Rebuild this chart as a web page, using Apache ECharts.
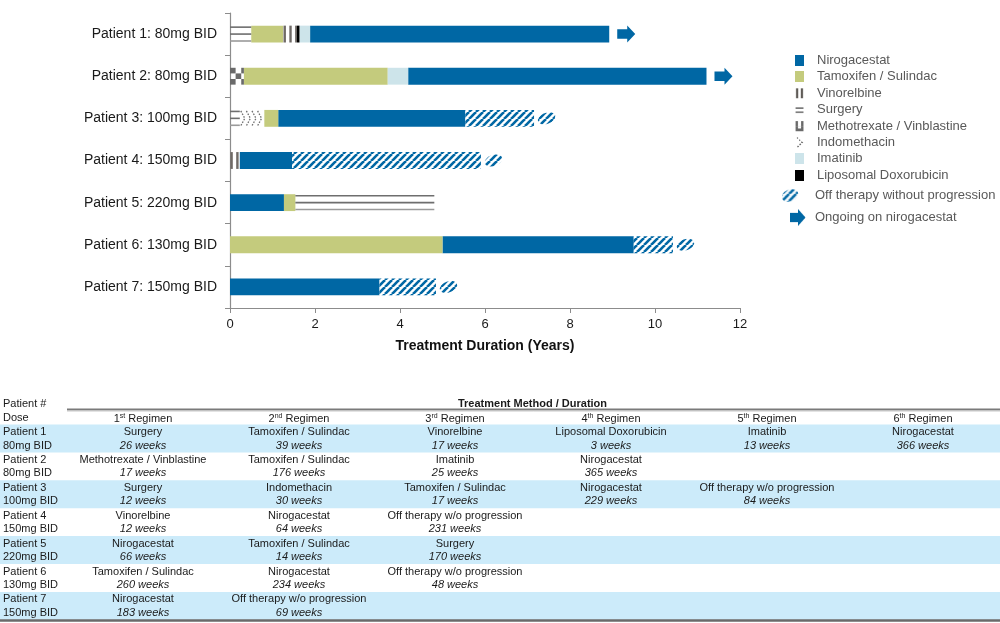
<!DOCTYPE html>
<html><head><meta charset="utf-8">
<script src="https://cdn.jsdelivr.net/npm/echarts@6/dist/echarts.min.js"></script>
<style>html,body{margin:0;padding:0;background:#fff}#chart{width:1000px;height:623px}</style>
</head><body><div id="chart"></div>
<script>
// ---------------- DATA ----------------
const patientIds = ['Patient 1','Patient 2','Patient 3','Patient 4','Patient 5','Patient 6','Patient 7'];
const doses = ['80mg BID','80mg BID','100mg BID','150mg BID','220mg BID','130mg BID','150mg BID'];
const regimens = [
  ['Surgery','Tamoxifen / Sulindac','Vinorelbine','Liposomal Doxorubicin','Imatinib','Nirogacestat'],
  ['Methotrexate / Vinblastine','Tamoxifen / Sulindac','Imatinib','Nirogacestat'],
  ['Surgery','Indomethacin','Tamoxifen / Sulindac','Nirogacestat','Off therapy w/o progression'],
  ['Vinorelbine','Nirogacestat','Off therapy w/o progression'],
  ['Nirogacestat','Tamoxifen / Sulindac','Surgery'],
  ['Tamoxifen / Sulindac','Nirogacestat','Off therapy w/o progression'],
  ['Nirogacestat','Off therapy w/o progression']
];
const weeks = [
  [26,39,17,3,13,366],
  [17,176,25,365],
  [12,30,17,229,84],
  [12,64,231],
  [66,14,170],
  [260,234,48],
  [183,69]
];
const ongoing = [true,true,false,false,false,false,false];
const regimenHeaders = [['1','st'],['2','nd'],['3','rd'],['4','th'],['5','th'],['6','th']];
const legendTypes = ['Nirogacestat','Tamoxifen / Sulindac','Vinorelbine','Surgery','Methotrexate / Vinblastine','Indomethacin','Imatinib','Liposomal Doxorubicin'];
const OFF = 'Off therapy without progression';
const OFF_SHORT = 'Off therapy w/o progression';
const ONGOING = 'Ongoing on nirogacestat';
const xAxisTitle = 'Treatment Duration (Years)';
const tableTitle = 'Treatment Method / Duration';
const WEEKS_PER_YEAR = 52;

// ---------------- STYLE ----------------
const FONT = "'Liberation Sans', Arial, Helvetica, sans-serif";
const C = {niro:'#0067A4', tam:'#C4CB7D', ima:'#CDE4EA', lipo:'#000000', gray:'#6E6E6E',
  band:'#CCEBFA', axis:'#8C8C8C', text:'#1A1A1A', legendText:'#595959'};

function mkCanvas(w,h,scale,draw){const c=document.createElement('canvas');c.width=w*scale;c.height=h*scale;const ctx=c.getContext('2d');ctx.scale(scale,scale);draw(ctx,w,h);return c;}
const hatchTile = mkCanvas(7,7,1,(ctx,w,h)=>{ctx.fillStyle='#fff';ctx.fillRect(0,0,w,h);ctx.strokeStyle=C.niro;ctx.lineWidth=2.6;
  for(const k of [-w,0,w]){ctx.beginPath();ctx.moveTo(k,h);ctx.lineTo(k+w,0);ctx.stroke();}});
const hatchFill = {image: hatchTile, repeat:'repeat'};

// ---------------- SEGMENTS ----------------
const typeOf = n => n === OFF_SHORT ? OFF : n;
const segs = {};
[...legendTypes, OFF].forEach(t => segs[t] = []);
const ends = [];
regimens.forEach((list,p) => { let t = 0; list.forEach((name,k) => { const d = weeks[p][k]/WEEKS_PER_YEAR; segs[typeOf(name)].push([t, t+d, p]); t += d; }); ends.push(t); });
const arrowData = [];
ongoing.forEach((g,p) => { if (g) arrowData.push([ends[p], p]); });

function geom(api){
  const p = api.value(2);
  const a = api.coord([api.value(0), p]);
  const b = api.coord([api.value(1), p]);
  const h = api.size([0,1])[1]*0.4;
  return {x0:a[0], x1:b[0], yc:a[1], y0:a[1]-h/2, h:h, w:b[0]-a[0]};
}
function rectEl(x,y,w,h,fill){return {type:'rect', shape:{x:x,y:y,width:w,height:h}, style:{fill:fill}};}
function blobPoints(cx,cy,rx,ry){const pts=[];for(let i=0;i<24;i++){const t=i/24*Math.PI*2;const px=Math.cos(t)*rx, py=Math.sin(t)*ry;const r=-0.35;pts.push([cx+px*Math.cos(r)-py*Math.sin(r), cy+px*Math.sin(r)+py*Math.cos(r)]);}return pts;}

function makeRender(type){
  return function(params, api){
    const g = geom(api); const ch = [];
    const {x0,x1,yc,y0,h,w} = g;
    switch(type){
      case 'Nirogacestat': ch.push(rectEl(x0,y0,w,h,C.niro)); break;
      case 'Tamoxifen / Sulindac': ch.push(rectEl(x0,y0,w,h,C.tam)); break;
      case 'Imatinib': ch.push(rectEl(x0,y0,w,h,C.ima)); break;
      case 'Liposomal Doxorubicin': ch.push(rectEl(x0,y0,w,h,C.lipo)); break;
      case 'Vinorelbine':
        for(let x=x0+0.4;x<x1-0.5;x+=5.8){ch.push(rectEl(x,y0,Math.min(2.4,x1-x),h,'#6f6a66'));}
        break;
      case 'Surgery':
        [y0+1.5, yc, y0+h-1.5].forEach((y,i)=>ch.push({type:'line', shape:{x1:x0,y1:y,x2:x1,y2:y}, style:{stroke:i===2?'#9a9a9a':'#6e6e6e', lineWidth:1.6}}));
        break;
      case 'Methotrexate / Vinblastine': {
        const s = h/3; let c = 0;
        for(let x=x0;x<x1-0.1;x+=s,c++){ for(let r=0;r<3;r++){ if((r+c)%2===0) ch.push(rectEl(x,y0+r*s,Math.min(s,x1-x),s,'#6a6a6a')); } }
        break; }
      case 'Indomethacin':
        for(let x=x0+1;x<x1-3;x+=5.6){ch.push({type:'polyline', shape:{points:[[x,y0+1],[x+4,yc],[x,y0+h-1]]}, style:{stroke:'#6e6e6e', lineWidth:1.3, lineDash:[1.6,1.4], fill:null}});}
        break;
      case OFF:
        ch.push(rectEl(x0,y0,w,h,hatchFill));
        ch.push({type:'polygon', shape:{points:blobPoints(x1+12.5,yc,9,5.5)}, style:{fill:hatchFill}});
        break;
    }
    return {type:'group', children:ch};
  };
}
function renderArrow(params, api){
  const c = api.coord([api.value(0), api.value(1)]);
  const s = c[0]+8, y = c[1];
  return {type:'polygon', shape:{points:[[s,y-4.8],[s+10,y-4.8],[s+10,y-8.5],[s+18,y],[s+10,y+8.5],[s+10,y+4.8],[s,y+4.8]]}, style:{fill:C.niro}};
}

// ---------------- LEGEND ICONS ----------------
function iconSmall(type){
  return mkCanvas(9,11,3,(ctx,w,h)=>{
    switch(type){
      case 'Nirogacestat': ctx.fillStyle=C.niro; ctx.fillRect(0,0,w,h); break;
      case 'Tamoxifen / Sulindac': ctx.fillStyle=C.tam; ctx.fillRect(0,0,w,h); break;
      case 'Imatinib': ctx.fillStyle=C.ima; ctx.fillRect(0,0,w,h); break;
      case 'Liposomal Doxorubicin': ctx.fillStyle='#000'; ctx.fillRect(0,0,w,h); break;
      case 'Vinorelbine': ctx.fillStyle='#5f5b57'; ctx.fillRect(1,0.5,2.4,10); ctx.fillRect(5.6,0.5,2.4,10); break;
      case 'Surgery': ctx.fillStyle='#5f5f5f'; ctx.fillRect(0.5,3.2,8,1.3); ctx.fillRect(0.5,7.4,8,1.3); break;
      case 'Methotrexate / Vinblastine': ctx.fillStyle='#6a6a6a'; ctx.fillRect(0.5,0.5,2.5,5); ctx.fillRect(6,0.5,2.5,5); ctx.fillRect(0.5,5.5,8,5); ctx.fillStyle='#fff'; ctx.fillRect(3,5.5,3,2.5); break;
      case 'Indomethacin': ctx.strokeStyle='#6a6a6a'; ctx.lineWidth=1.3; ctx.setLineDash([1.5,1.5]); ctx.beginPath(); ctx.moveTo(2,0.5); ctx.lineTo(7,5.5); ctx.lineTo(2,10.5); ctx.stroke(); break;
    }
  }).toDataURL();
}
const offIcon = mkCanvas(24,17,3,(ctx)=>{
  const pat = ctx.createPattern(hatchTile,'repeat'); ctx.fillStyle = pat;
  ctx.beginPath(); blobPoints(8,8.5,8.5,6).forEach((p,i)=> i?ctx.lineTo(p[0],p[1]):ctx.moveTo(p[0],p[1])); ctx.closePath(); ctx.fill();
}).toDataURL();
const arrowIcon = mkCanvas(24,17,3,(ctx)=>{
  ctx.fillStyle=C.niro; ctx.beginPath();
  [[8,3.8],[16,3.8],[16,0],[23.5,8.5],[16,17],[16,13.2],[8,13.2]].forEach((p,i)=> i?ctx.lineTo(p[0],p[1]):ctx.moveTo(p[0],p[1]));
  ctx.closePath(); ctx.fill();
}).toDataURL();

// ---------------- TABLE (graphic) ----------------
const ROW0 = 424.5, ROWH = 27.9, COL0 = 143, COLW = 156;
const tableEls = [];
patientIds.forEach((id,p)=>{ if(p%2===0) tableEls.push({type:'rect', silent:true, shape:{x:0,y:ROW0+p*ROWH,width:1000,height:ROWH}, style:{fill:C.band}}); });
function txt(x,y,text,extra){ return Object.assign({type:'text', silent:true, x:x, y:y, style:Object.assign({text:text, fontSize:11, fontFamily:FONT, fill:C.text, align:'center', verticalAlign:'middle'}, extra||{})}); }
tableEls.push(txt(3,404,'Patient #',{align:'left'}));
tableEls.push(txt(3,418,'Dose',{align:'left'}));
tableEls.push(txt(532.5,403.5,tableTitle,{fontWeight:'bold'}));
tableEls.push({type:'line', silent:true, shape:{x1:67,y1:409.5,x2:1000,y2:409.5}, style:{stroke:'#7a7a7a', lineWidth:2}});
tableEls.push({type:'line', silent:true, shape:{x1:67,y1:411,x2:1000,y2:411}, style:{stroke:'#c8c8c8', lineWidth:1}});
regimenHeaders.forEach((r,j)=>{
  tableEls.push({type:'text', silent:true, x:COL0+j*COLW, y:418.5, style:{text:'{b|'+r[0]+'}{s|'+r[1]+'}{b| Regimen}',
    rich:{b:{fontSize:11,fontFamily:FONT,fill:C.text}, s:{fontSize:7,fontFamily:FONT,fill:C.text,verticalAlign:'top'}},
    align:'center', verticalAlign:'middle'}});
});
patientIds.forEach((id,p)=>{
  const top = ROW0 + p*ROWH;
  tableEls.push(txt(3, top+7.5, id, {align:'left'}));
  tableEls.push(txt(3, top+21, doses[p], {align:'left'}));
  regimens[p].forEach((name,k)=>{
    tableEls.push(txt(COL0+k*COLW, top+7.5, name));
    tableEls.push(txt(COL0+k*COLW, top+21, weeks[p][k]+' weeks', {fontStyle:'italic'}));
  });
});
tableEls.push({type:'line', silent:true, shape:{x1:0,y1:620.5,x2:1000,y2:620.5}, style:{stroke:'#6a6a6a', lineWidth:2.5}});

// ---------------- CHART ----------------
const series = [...legendTypes, OFF].map(t => ({type:'custom', name:t, renderItem:makeRender(t), encode:{x:[0,1], y:2}, data:segs[t], silent:true}));
series.push({type:'custom', name:ONGOING, renderItem:renderArrow, encode:{x:0, y:1}, data:arrowData, silent:true});

const chart = echarts.init(document.getElementById('chart'), null, {renderer:'canvas'});
chart.setOption({
  animation:false,
  backgroundColor:'#ffffff',
  textStyle:{fontFamily:FONT},
  grid:{left:230, top:13, width:510, height:295, containLabel:false, outerBoundsMode:'none'},
  xAxis:{type:'value', min:0, max:12, interval:2,
    axisLine:{show:true, lineStyle:{color:C.axis, width:1.2}},
    axisTick:{show:true, length:5, lineStyle:{color:C.axis}},
    splitLine:{show:false},
    axisLabel:{fontSize:13, color:C.text, margin:10, fontFamily:FONT},
    name:xAxisTitle, nameLocation:'middle', nameGap:31,
    nameTextStyle:{fontSize:14, fontWeight:'bold', color:'#111', fontFamily:FONT}},
  yAxis:{type:'category', inverse:true, data:patientIds.map((id,p)=>id+': '+doses[p]),
    axisLine:{show:true, lineStyle:{color:C.axis, width:1.2}},
    axisTick:{show:true, length:5, interval:0, lineStyle:{color:C.axis}},
    splitLine:{show:false},
    axisLabel:{fontSize:14, color:C.text, margin:13, fontFamily:FONT}},
  legend:[
    {orient:'vertical', left:795, top:54, padding:0, itemWidth:9, itemHeight:11, itemGap:3.4, selectedMode:false,
     textStyle:{fontSize:13, color:C.legendText, fontFamily:FONT, padding:[0,0,0,8]},
     data:legendTypes.map(t=>({name:t, icon:'image://'+iconSmall(t)}))},
    {orient:'vertical', left:782, top:187, padding:0, itemWidth:24, itemHeight:17, itemGap:5, selectedMode:false,
     textStyle:{fontSize:13, color:C.legendText, fontFamily:FONT, padding:[0,0,0,4]},
     data:[{name:OFF, icon:'image://'+offIcon},{name:ONGOING, icon:'image://'+arrowIcon}]}
  ],
  graphic:{elements:tableEls},
  series:series
});
</script></body></html>
